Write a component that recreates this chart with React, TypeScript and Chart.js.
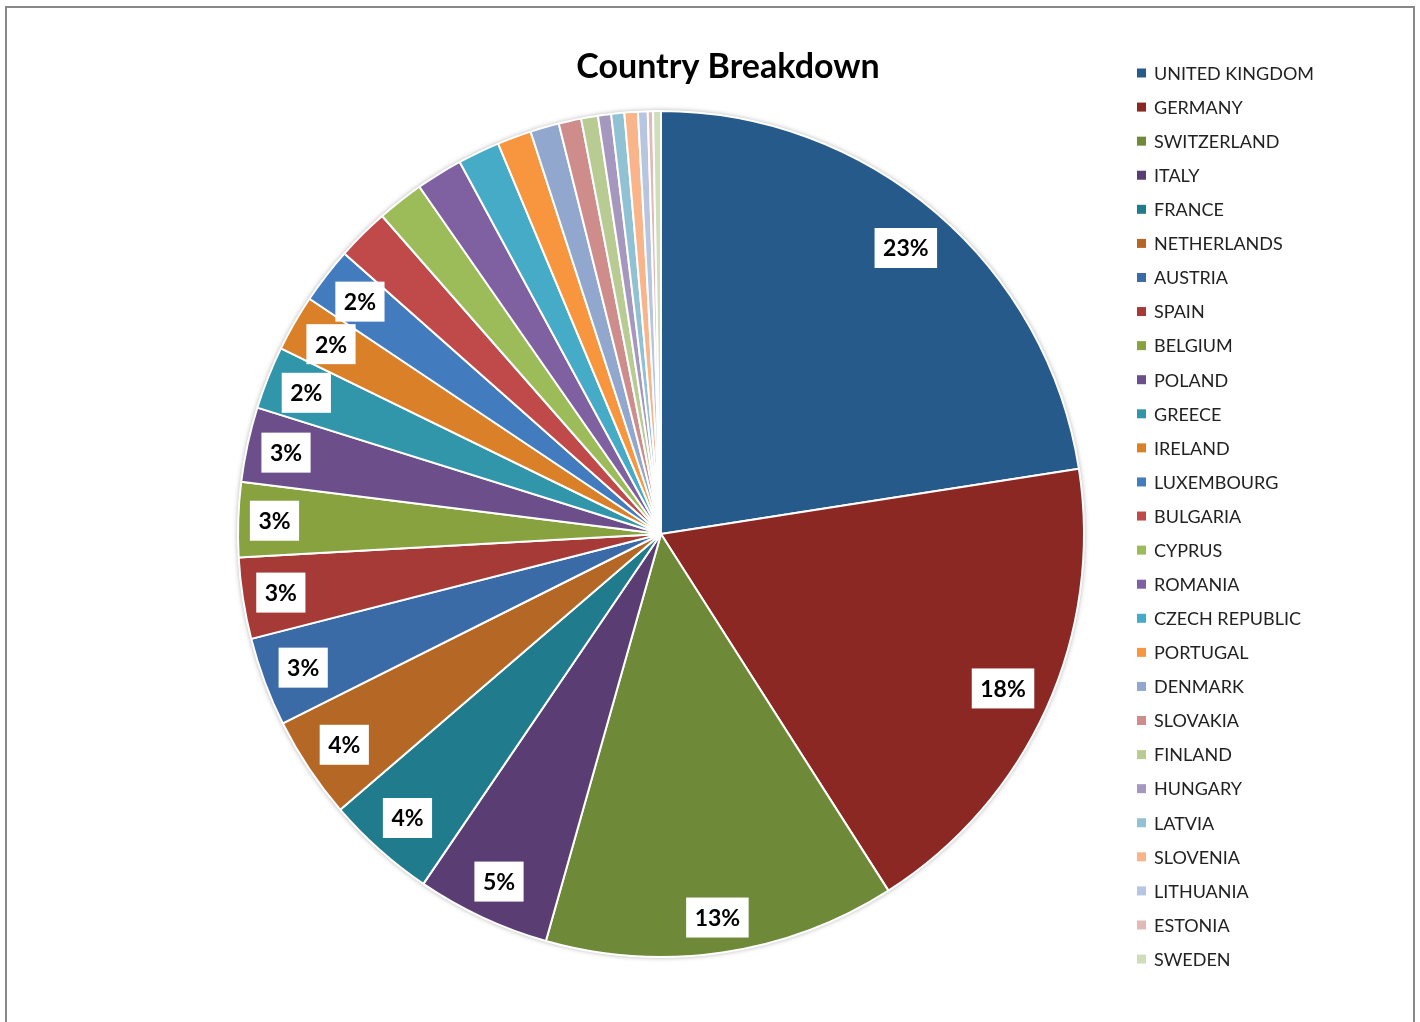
import { useEffect, useRef } from "react";
import { Chart, registerables } from "chart.js";

Chart.register(...registerables);

const countries = [
  "UNITED KINGDOM", "GERMANY", "SWITZERLAND", "ITALY", "FRANCE", "NETHERLANDS",
  "AUSTRIA", "SPAIN", "BELGIUM", "POLAND", "GREECE", "IRELAND", "LUXEMBOURG",
  "BULGARIA", "CYPRUS", "ROMANIA", "CZECH REPUBLIC", "PORTUGAL", "DENMARK",
  "SLOVAKIA", "FINLAND", "HUNGARY", "LATVIA", "SLOVENIA", "LITHUANIA", "ESTONIA", "SWEDEN",
];

const shares = [
  22.5, 18.4, 13.4, 5.1, 4.2, 3.9,
  3.4, 3.1, 2.85, 2.85, 2.4, 2.15, 2.15,
  2.0, 1.78, 1.78, 1.6, 1.3, 1.1,
  0.86, 0.64, 0.5, 0.5, 0.51, 0.37, 0.2, 0.3,
];

const colors = [
  "#255A8A", "#8B2824", "#6E8A38", "#5A3D72", "#207C8C", "#B56726",
  "#3B6BA6", "#A63A37", "#87A23E", "#6B4E8A", "#3296AB", "#D98029", "#437BBF",
  "#C0494A", "#9CBB59", "#7F61A1", "#45ABC6", "#F7963F", "#91A7CD",
  "#CE8C8B", "#B8CB93", "#A697BF", "#90C2D3", "#F9B48A", "#B8C5E0", "#E3B9B8", "#D0DDBB",
];

const labeledSlices = 13;
const titleText = "Country Breakdown";

const FONT = "Lato, 'Open Sans', sans-serif";

export default function App() {
  const ref = useRef<HTMLCanvasElement>(null);

  useEffect(() => {
    const canvas = ref.current;
    if (!canvas) return;
    const total = shares.reduce((a, b) => a + b, 0);

    const shadowPlugin = {
      id: "pieShadow",
      beforeDatasetsDraw(chart: any) {
        const arc = chart.getDatasetMeta(0).data[0] as any;
        if (!arc) return;
        const ctx = chart.ctx;
        ctx.save();
        ctx.beginPath();
        ctx.arc(arc.x, arc.y, arc.outerRadius + 0.5, 0, Math.PI * 2);
        ctx.shadowColor = "rgba(0,0,0,0.35)";
        ctx.shadowBlur = 5;
        ctx.fillStyle = "#ffffff";
        ctx.fill();
        ctx.restore();
      },
    };

    const labelPlugin = {
      id: "sliceLabels",
      afterDatasetsDraw(chart: any) {
        const ctx = chart.ctx;
        const meta = chart.getDatasetMeta(0);
        ctx.save();
        ctx.font = `bold 23px ${FONT}`;
        ctx.textAlign = "center";
        ctx.textBaseline = "middle";
        meta.data.forEach((el: any, i: number) => {
          if (i >= labeledSlices) return;
          const text = Math.round((shares[i] / total) * 100) + "%";
          const w = ctx.measureText(text).width + 17;
          const h = 40;
          const mid = (el.startAngle + el.endAngle) / 2;
          const ux = Math.cos(mid);
          const uy = Math.sin(mid);
          const ext = Math.abs(ux) * (w / 2) + Math.abs(uy) * (h / 2);
          const r = el.outerRadius - ext - 11;
          const cx = el.x + ux * r;
          const cy = el.y + uy * r;
          ctx.fillStyle = "#ffffff";
          ctx.fillRect(cx - w / 2, cy - h / 2, w, h);
          ctx.fillStyle = "#000000";
          ctx.fillText(text, cx, cy + 1);
        });
        ctx.restore();
      },
    };

    const legendTitlePlugin = {
      id: "legendTitle",
      afterDraw(chart: any) {
        const ctx = chart.ctx;
        const labels = chart.data.labels as string[];
        const bg = chart.data.datasets[0].backgroundColor as string[];
        ctx.save();
        ctx.font = `bold 34px ${FONT}`;
        ctx.fillStyle = "#000000";
        ctx.textAlign = "center";
        ctx.textBaseline = "alphabetic";
        ctx.fillText(titleText, 728, 78);
        ctx.font = `18px ${FONT}`;
        ctx.textAlign = "left";
        ctx.textBaseline = "middle";
        const y0 = 73;
        const step = 34.08;
        labels.forEach((lab, i) => {
          const y = y0 + i * step;
          ctx.fillStyle = bg[i];
          ctx.fillRect(1137, y - 4.5, 9, 9);
          ctx.fillStyle = "#222222";
          ctx.fillText(lab, 1154, y + 1);
        });
        ctx.restore();
      },
    };

    const chart = new Chart(canvas, {
      type: "pie",
      data: {
        labels: countries,
        datasets: [
          {
            data: shares,
            backgroundColor: colors,
            borderColor: "#ffffff",
            borderWidth: 2,
            radius: 423,
          } as any,
        ],
      },
      options: {
        responsive: false,
        animation: false,
        layout: { padding: { left: 238, right: 336, top: 111, bottom: 65 } },
        plugins: {
          legend: { display: false },
          title: { display: false },
          tooltip: { enabled: false },
        },
      },
      plugins: [shadowPlugin, labelPlugin, legendTitlePlugin],
    });

    return () => chart.destroy();
  }, []);

  return (
    <div style={{ position: "absolute", left: 0, top: 0, width: 1420, height: 1022, overflow: "hidden", background: "#fff" }}>
      <div
        style={{
          position: "absolute",
          left: 5,
          top: 6,
          width: 1406,
          height: 1040,
          border: "2px solid #888888",
          boxSizing: "content-box",
        }}
      />
      <canvas ref={ref} width={1420} height={1022} style={{ position: "absolute", left: 0, top: 0, display: "block" }} />
    </div>
  );
}
